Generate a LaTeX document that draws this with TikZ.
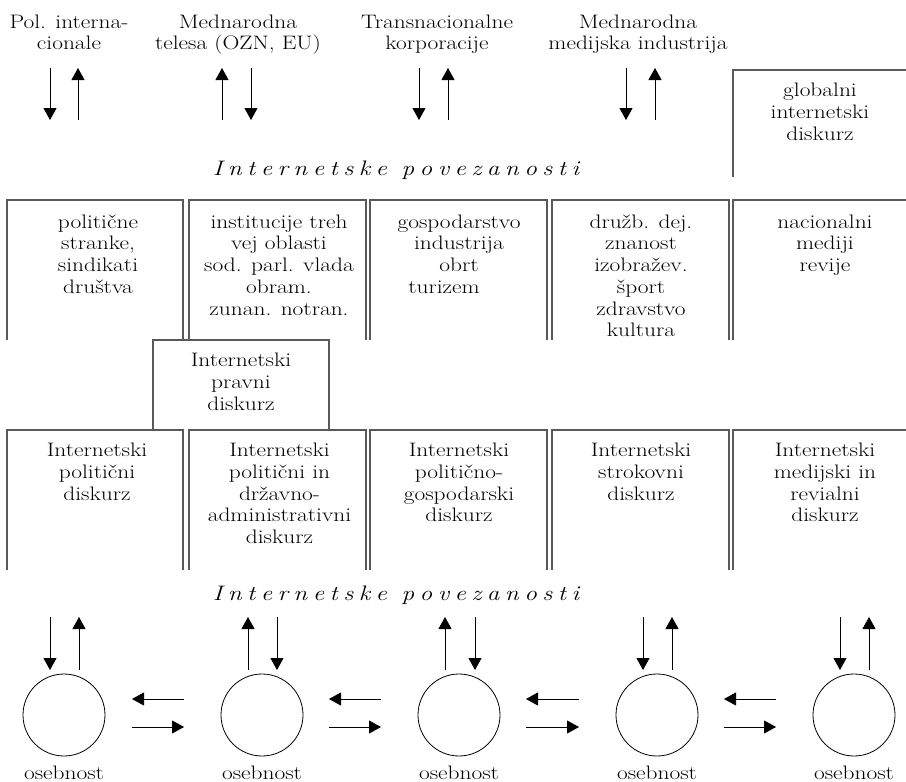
\documentclass[tikz,border=0pt]{standalone}
\usepackage{fontspec}
\setmainfont{Latin Modern Roman}[FakeStretch=1.2]
\usetikzlibrary{arrows.meta}

\makeatletter
\newcommand\lspace[1]{\@tfor\lsp@c:=#1\do{\lsp@c\kern0.26em}\unkern}
\makeatother

\tikzset{
  wall/.style={draw=black!65, line width=1.1pt},
  lbl/.style={align=center, anchor=north, inner sep=0pt, font=\fontsize{19.5}{21.7}\selectfont},
  heading/.style={anchor=base, inner sep=0pt, font=\fontsize{21}{24}\selectfont\itshape},
  person/.style={circle, draw, line width=0.8pt, minimum size=82pt, inner sep=0pt},
  flow/.style={-{Triangle[width=13pt,length=12pt]}, line width=0.9pt},
}

\begin{document}
\begin{tikzpicture}[x=1pt, y=-1pt]
  \useasboundingbox (0,0) rectangle (906,782);

  % Coordinates
  \coordinate (ta1) at (50,68);   \coordinate (tb1) at (50,120);
  \coordinate (ta2) at (78,68);   \coordinate (tb2) at (78,120);
  \coordinate (ta3) at (222,68);  \coordinate (tb3) at (222,120);
  \coordinate (ta4) at (251,68);  \coordinate (tb4) at (251,120);
  \coordinate (ta5) at (419,68);  \coordinate (tb5) at (419,120);
  \coordinate (ta6) at (448,68);  \coordinate (tb6) at (448,120);
  \coordinate (ta7) at (626,68);  \coordinate (tb7) at (626,120);
  \coordinate (ta8) at (655,68);  \coordinate (tb8) at (655,120);

  \coordinate (ba1) at (50,617);  \coordinate (bb1) at (50,670);
  \coordinate (ba2) at (79,617);  \coordinate (bb2) at (79,670);
  \coordinate (ba3) at (248,617); \coordinate (bb3) at (248,670);
  \coordinate (ba4) at (277,617); \coordinate (bb4) at (277,670);
  \coordinate (ba5) at (445,617); \coordinate (bb5) at (445,670);
  \coordinate (ba6) at (475,617); \coordinate (bb6) at (475,670);
  \coordinate (ba7) at (643,617); \coordinate (bb7) at (643,670);
  \coordinate (ba8) at (672,617); \coordinate (bb8) at (672,670);
  \coordinate (ba9) at (840,617); \coordinate (bb9) at (840,670);
  \coordinate (ba10) at (869,617); \coordinate (bb10) at (869,670);

  \coordinate (la1) at (132,699); \coordinate (lb1) at (184,699);
  \coordinate (la2) at (329,699); \coordinate (lb2) at (381,699);
  \coordinate (la3) at (526,699); \coordinate (lb3) at (579,699);
  \coordinate (la4) at (724,699); \coordinate (lb4) at (776,699);
  \coordinate (ra1) at (132,727); \coordinate (rb1) at (184,727);
  \coordinate (ra2) at (329,727); \coordinate (rb2) at (381,727);
  \coordinate (ra3) at (526,727); \coordinate (rb3) at (579,727);
  \coordinate (ra4) at (724,727); \coordinate (rb4) at (776,727);

  % Top labels
  \node[lbl] (pol) at (69,14.5) {Pol. interna-\\cionale};
  \node[lbl] (tel) at (238,14.5) {Mednarodna\\telesa (OZN, EU)};
  \node[lbl] (kor) at (437,14.5) {Transnacionalne\\korporacije};
  \node[lbl] (mdi) at (638,14.5) {Mednarodna\\medijska industrija};

  \draw[flow] (ta1) -- (tb1);
  \draw[flow] (tb2) -- (ta2);
  \draw[flow] (tb3) -- (ta3);
  \draw[flow] (ta4) -- (tb4);
  \draw[flow] (ta5) -- (tb5);
  \draw[flow] (tb6) -- (ta6);
  \draw[flow] (ta7) -- (tb7);
  \draw[flow] (tb8) -- (ta8);

  % globalni box
  \draw[wall] (733,177) |- (906,70);
  \node[lbl] (glob) at (820,83) {globalni\\internetski\\diskurz};

  \node[heading] (pov1) at (396,175) {\lspace{Internetske}\hspace{0.7em}\lspace{povezanosti}};

  % First row of boxes
  \draw[wall] (7,340) |- (183,200) -- (183,340);
  \draw[wall] (189,340) |- (366,200) -- (366,340);
  \draw[wall] (370,340) |- (547,200) -- (547,340);
  \draw[wall] (552,340) |- (729,200) -- (729,340);
  \draw[wall] (733,340) |- (906,200);

  \node[lbl] (str) at (98,214.5) {politične\\stranke,\\sindikati\\društva};
  \node[lbl] (ins) at (279,214.5) {institucije treh\\vej oblasti\\sod. parl. vlada\\obram.\\zunan. notran.};
  \node[lbl] (gos) at (459,214.5) {gospodarstvo\\industrija\\obrt\\turizem\hspace*{30pt}};
  \node[lbl] (dru) at (641,214.5) {družb. dej.\\znanost\\izobražev.\\šport\\zdravstvo\\kultura};
  \node[lbl] (nac) at (825,214.5) {nacionalni\\mediji\\revije};

  % pravni box
  \draw[wall] (153,430) |- (329,340) -- (329,430);
  \node[lbl] (prav) at (241,353) {Internetski\\pravni\\diskurz};

  % Second row of boxes
  \draw[wall] (7,570) |- (183,430) -- (183,570);
  \draw[wall] (189,570) |- (366,430) -- (366,570);
  \draw[wall] (370,570) |- (547,430) -- (547,570);
  \draw[wall] (552,570) |- (729,430) -- (729,570);
  \draw[wall] (733,570) |- (906,430);

  \node[lbl] (dpol) at (97,443) {Internetski\\politični\\diskurz};
  \node[lbl] (ddrz) at (279.5,443) {Internetski\\politični in\\državno-\\administrativni\\diskurz};
  \node[lbl] (dgos) at (459,443) {Internetski\\politično-\\gospodarski\\diskurz};
  \node[lbl] (dstr) at (641,443) {Internetski\\strokovni\\diskurz};
  \node[lbl] (dmed) at (825,443) {Internetski\\medijski in\\revialni\\diskurz};

  \node[heading] (pov2) at (396,600) {\lspace{Internetske}\hspace{0.7em}\lspace{povezanosti}};

  % Persons
  \node[person] (o1) at (64,715) {};
  \node[person] (o2) at (262,715) {};
  \node[person] (o3) at (459,715) {};
  \node[person] (o4) at (657,715) {};
  \node[person] (o5) at (854,715) {};

  \node[lbl, anchor=base] (n1) at (o1 |- 0,779) {osebnost};
  \node[lbl, anchor=base] (n2) at (o2 |- 0,779) {osebnost};
  \node[lbl, anchor=base] (n3) at (o3 |- 0,779) {osebnost};
  \node[lbl, anchor=base] (n4) at (o4 |- 0,779) {osebnost};
  \node[lbl, anchor=base] (n5) at (o5 |- 0,779) {osebnost};

  \draw[flow] (ba1) -- (bb1);
  \draw[flow] (bb2) -- (ba2);
  \draw[flow] (bb3) -- (ba3);
  \draw[flow] (ba4) -- (bb4);
  \draw[flow] (bb5) -- (ba5);
  \draw[flow] (ba6) -- (bb6);
  \draw[flow] (ba7) -- (bb7);
  \draw[flow] (bb8) -- (ba8);
  \draw[flow] (ba9) -- (bb9);
  \draw[flow] (bb10) -- (ba10);

  \draw[flow] (lb1) -- (la1);
  \draw[flow] (lb2) -- (la2);
  \draw[flow] (lb3) -- (la3);
  \draw[flow] (lb4) -- (la4);
  \draw[flow] (ra1) -- (rb1);
  \draw[flow] (ra2) -- (rb2);
  \draw[flow] (ra3) -- (rb3);
  \draw[flow] (ra4) -- (rb4);
\end{tikzpicture}
\end{document}
